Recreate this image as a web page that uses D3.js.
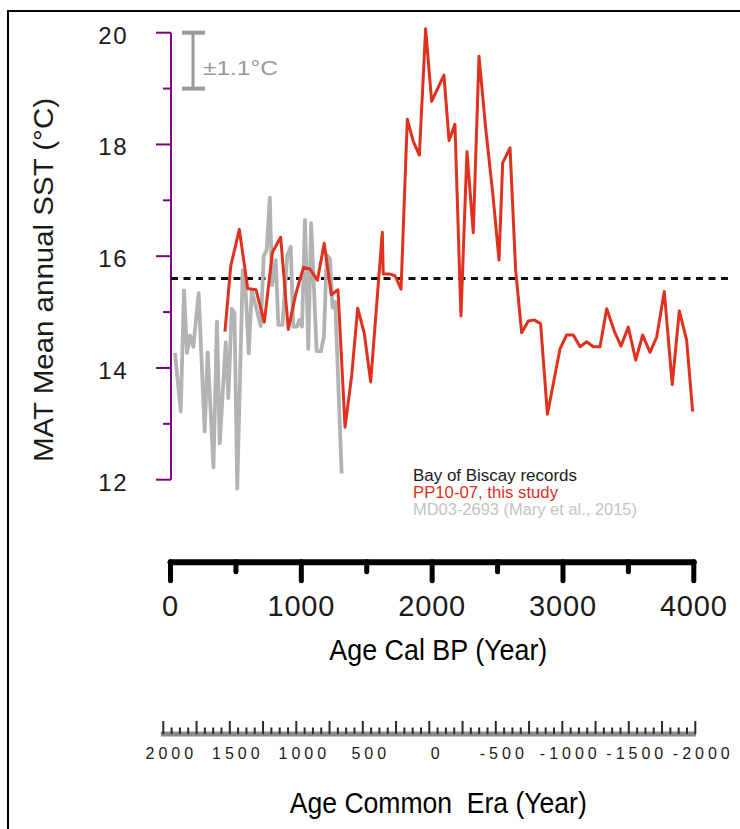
<!DOCTYPE html>
<html>
<head>
<meta charset="utf-8">
<script src="https://cdn.jsdelivr.net/npm/d3@7"></script>
<style>
  body { margin: 0; background: #fff; }
  text { font-family: "Liberation Sans", Arial, sans-serif; }
</style>
</head>
<body>
<div class="grafico"></div>
<script>
// MD03-2693 (Mary et al., 2015), grey record
const greyAge = [38, 82, 107, 130, 153, 178, 219, 265, 288, 332, 359, 380, 426, 446, 472, 493, 514, 556, 573, 602, 625, 650, 694, 716, 739, 763, 780, 808, 828, 860, 896, 923, 942, 971, 988, 1009, 1032, 1057, 1079, 1121, 1154, 1177, 1198, 1223, 1242, 1263, 1312];
const greySst = [14.27, 13.22, 15.39, 14.27, 14.58, 14.38, 15.34, 12.86, 14.28, 12.22, 14.83, 12.65, 14.46, 13.46, 15.06, 14.98, 11.84, 15.75, 15.63, 14.26, 15.39, 15.16, 14.75, 16.0, 16.11, 17.05, 15.48, 15.93, 14.77, 14.77, 16.01, 16.17, 14.74, 14.74, 14.86, 14.74, 16.65, 14.34, 16.59, 14.3, 14.3, 14.57, 16.02, 15.95, 15.08, 15.18, 12.11];

// PP10-07, this study, red record
const redAge = [420, 464, 530, 594, 657, 721, 783, 846, 904, 963, 1021, 1070, 1127, 1179, 1233, 1284, 1338, 1389, 1435, 1485, 1534, 1623, 1630, 1682, 1720, 1766, 1814, 1860, 1906, 1954, 2000, 2094, 2133, 2178, 2224, 2270, 2318, 2362, 2413, 2467, 2515, 2543, 2599, 2642, 2688, 2739, 2784, 2833, 2885, 2981, 3032, 3083, 3134, 3185, 3235, 3287, 3338, 3396, 3447, 3503, 3560, 3613, 3669, 3720, 3778, 3839, 3893, 3949, 3995];
const redSst = [14.65, 15.82, 16.48, 15.42, 15.4, 14.82, 16.07, 16.34, 14.69, 15.34, 15.8, 15.77, 15.57, 16.23, 15.31, 15.4, 12.94, 13.87, 15.07, 14.62, 13.75, 16.43, 15.68, 15.68, 15.65, 15.41, 18.45, 18.05, 17.81, 20.07, 18.77, 19.24, 18.07, 18.36, 14.93, 17.87, 16.42, 19.58, 18.29, 17.13, 15.93, 17.67, 17.94, 15.75, 14.63, 14.84, 14.86, 14.79, 13.17, 14.34, 14.59, 14.59, 14.38, 14.47, 14.38, 14.38, 15.06, 14.66, 14.39, 14.73, 14.14, 14.59, 14.28, 14.55, 15.37, 13.7, 15.02, 14.5, 13.22];

const meanSst = 15.6;
const errTop = 20, errBottom = 19;
const yTicks = [12, 13, 14, 15, 16, 17, 18, 19, 20];
const bpTicks = [0, 500, 1000, 1500, 2000, 2500, 3000, 3500, 4000];
const ceLabels = [2000, 1500, 1000, 500, 0, -500, -1000, -1500, -2000];
const ceTicks = d3.range(-2000, 2000.1, 62.5);

const legendLines = [
  { text: "Bay of Biscay records", color: "#1a1a1a", len: 164 },
  { text: "PP10-07, this study", color: "#e0301e", len: 145 },
  { text: "MD03-2693  (Mary et al., 2015)", color: "#c4c4c4", len: 224 }
];

var width = 740, height = 829;

var svg = d3.select(".grafico").append("svg")
  .attr("width", width)
  .attr("height", height);

// scales
var x = d3.scaleLinear().domain([0, 4000]).range([170, 693.3]);
var y = d3.scaleLinear().domain([12, 20]).range([479.7, 32.7]);
var xce = d3.scaleLinear().domain([2000, -2000]).range([163.3, 695.3]);

// frame
svg.append("path")
  .attr("d", "M8,829 V11 H740")
  .attr("fill", "none")
  .attr("stroke", "#000")
  .attr("stroke-width", 2);

// y axis (purple)
var gy = svg.append("g").attr("transform", "translate(171,0)");
gy.append("line")
  .attr("y1", y(12)).attr("y2", y(20))
  .attr("stroke", "#800080").attr("stroke-width", 2);
gy.selectAll(".ytick").data(yTicks).enter().append("line")
  .attr("x1", d => d % 2 === 0 ? -15 : -8)
  .attr("x2", 0)
  .attr("y1", d => y(d)).attr("y2", d => y(d))
  .attr("stroke", "#800080").attr("stroke-width", 2);
svg.selectAll(".ylab").data(yTicks.filter(d => d % 2 === 0)).enter().append("text")
  .attr("x", 128)
  .attr("y", d => y(d) + 11)
  .attr("text-anchor", "end")
  .attr("font-size", 24)
  .attr("letter-spacing", 1.5)
  .attr("fill", "#1a1a1a")
  .text(d => d);

svg.append("text")
  .attr("transform", "translate(53," + 280 + ") rotate(-90)")
  .attr("text-anchor", "middle")
  .attr("font-size", 28)
  .attr("textLength", 364)
  .attr("lengthAdjust", "spacingAndGlyphs")
  .attr("fill", "#1a1a1a")
  .text("MAT Mean annual SST (°C)");

// error bar
var eb = svg.append("g").attr("stroke", "#999").attr("stroke-width", 3);
eb.append("line").attr("x1", 193).attr("x2", 193).attr("y1", y(errTop)).attr("y2", y(errBottom));
eb.append("line").attr("x1", 182).attr("x2", 205).attr("y1", y(errTop)).attr("y2", y(errTop)).attr("stroke-width", 4);
eb.append("line").attr("x1", 182).attr("x2", 205).attr("y1", y(errBottom)).attr("y2", y(errBottom)).attr("stroke-width", 4);
svg.append("text")
  .attr("x", 203).attr("y", 75)
  .attr("font-size", 21)
  .attr("textLength", 75)
  .attr("lengthAdjust", "spacingAndGlyphs")
  .attr("fill", "#999")
  .text("±1.1°C");

// mean line
svg.append("line")
  .attr("x1", 171).attr("x2", 729)
  .attr("y1", y(meanSst)).attr("y2", y(meanSst))
  .attr("stroke", "#111").attr("stroke-width", 3)
  .attr("stroke-dasharray", "7,5.5");

// series
var line = d3.line().x(d => x(d[0])).y(d => y(d[1]));
svg.append("path")
  .datum(greyAge.map((a, i) => [a, greySst[i]]))
  .attr("d", line)
  .attr("fill", "none")
  .attr("stroke", "#b3b3b3")
  .attr("stroke-width", 3.8)
  .attr("stroke-linejoin", "round");
svg.append("path")
  .datum(redAge.map((a, i) => [a, redSst[i]]))
  .attr("d", line)
  .attr("fill", "none")
  .attr("stroke", "#e0301e")
  .attr("stroke-width", 3)
  .attr("stroke-linejoin", "round");

// legend
svg.selectAll(".leg").data(legendLines).enter().append("text")
  .attr("x", 413)
  .attr("y", (d, i) => 481 + i * 16.8)
  .attr("font-size", 16)
  .attr("textLength", d => d.len)
  .attr("lengthAdjust", "spacingAndGlyphs")
  .attr("fill", d => d.color)
  .text(d => d.text);

// x axis Cal BP
var gx = svg.append("g")
  .attr("transform", "translate(0,561.7)")
  .call(d3.axisBottom(x).tickValues(bpTicks).tickSizeOuter(0)
    .tickFormat(d => d % 1000 === 0 ? d : ""));
gx.select(".domain").attr("stroke", "#000").attr("stroke-width", 6).attr("stroke-linecap", "round");
gx.selectAll(".tick line")
  .attr("y2", d => d % 1000 === 0 ? 19 : 10)
  .attr("stroke", "#000").attr("stroke-width", 5).attr("stroke-linecap", "round");
gx.selectAll(".tick text")
  .attr("y", 34).attr("dy", "0.71em")
  .attr("font-family", "Liberation Sans, Arial, sans-serif")
  .attr("font-size", 29)
  .attr("letter-spacing", 0.8)
  .attr("fill", "#1a1a1a");

svg.append("text")
  .attr("x", 438.3).attr("y", 660)
  .attr("text-anchor", "middle")
  .attr("font-size", 29)
  .attr("textLength", 218)
  .attr("lengthAdjust", "spacingAndGlyphs")
  .attr("fill", "#000")
  .text("Age Cal BP (Year)");

// x axis Common Era
var gce = svg.append("g");
gce.append("line")
  .attr("x1", xce(2000) - 2.5).attr("x2", xce(-2000) + 0.7)
  .attr("y1", 734).attr("y2", 734)
  .attr("stroke", "#8a8a8a").attr("stroke-width", 5);
gce.selectAll(".cet").data(ceTicks).enter().append("line")
  .attr("x1", d => xce(d)).attr("x2", d => xce(d))
  .attr("y1", d => d % 250 === 0 ? 721 : 727.5)
  .attr("y2", 734)
  .attr("stroke", "#2a2a2a").attr("stroke-width", 2);
gce.selectAll(".cel").data(ceLabels).enter().append("text")
  .attr("x", d => xce(d) + 8)
  .attr("y", 759)
  .attr("text-anchor", "middle")
  .attr("font-size", 16)
  .attr("letter-spacing", 4)
  .attr("fill", "#1a1a1a")
  .text(d => d);

svg.append("text")
  .attr("x", 438.3).attr("y", 813)
  .attr("text-anchor", "middle")
  .attr("font-size", 30)
  .attr("textLength", 297)
  .attr("lengthAdjust", "spacingAndGlyphs")
  .attr("fill", "#000")
  .style("white-space", "pre")
  .text("Age Common  Era (Year)");
</script>
</body>
</html>
